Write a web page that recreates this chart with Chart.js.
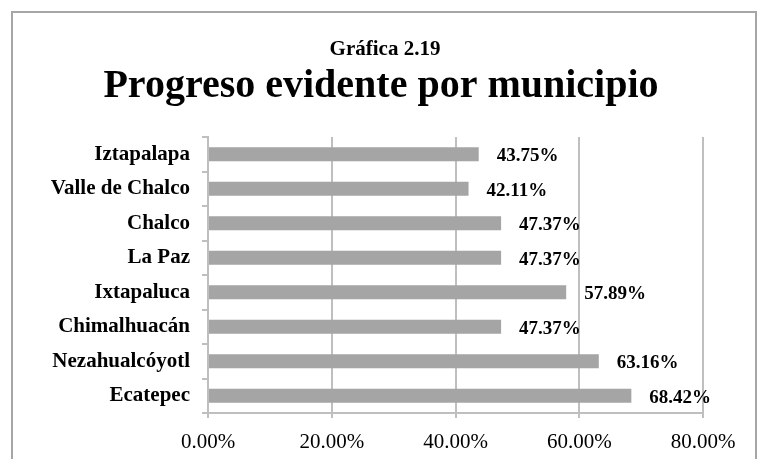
<!DOCTYPE html>
<html>
<head>
<meta charset="utf-8">
<script src="https://cdn.jsdelivr.net/npm/chart.js@4/dist/chart.umd.min.js"></script>
<style>
    html, body { margin: 0; padding: 0; background: #fff; }
    #wrap { position: relative; width: 762px; height: 459px; overflow: hidden; }
    #frame { position: absolute; left: 11px; top: 11px; width: 746px; height: 460px; border: 2px solid #a6a6a6; box-sizing: border-box; }
    canvas { position: absolute; left: 0; top: 0; }
</style>
</head>
<body>
<div id="wrap">
    <div id="frame"></div>
    <canvas id="chart" width="762" height="459"></canvas>
</div>
<script>
// Gráfica 2.19 — progreso evidente por municipio

const municipios = ['Iztapalapa', 'Valle de Chalco', 'Chalco', 'La Paz', 'Ixtapaluca', 'Chimalhuacán', 'Nezahualcóyotl', 'Ecatepec'];
const porcentajes = [43.75, 42.11, 47.37, 47.37, 57.89, 47.37, 63.16, 68.42];
const ticksX = [0, 20, 40, 60, 80];
const titulo = 'Gráfica 2.19';
const subtitulo = 'Progreso evidente por municipio';

const SERIF = '"Liberation Serif", "Times New Roman", serif';
const GRID = '#bfbfbf';

// Títulos centrados en el lienzo (no sobre el área del gráfico)
const headerText = {
    id: 'headerText',
    afterDraw(chart) {
        const { ctx, width } = chart;
        ctx.save();
        ctx.fillStyle = '#000';
        ctx.textAlign = 'center';
        ctx.textBaseline = 'middle';
        ctx.font = 'bold 21px ' + SERIF;
        ctx.fillText(titulo, width / 2 + 4, 50);
        ctx.font = 'bold 40px ' + SERIF;
        ctx.fillText(subtitulo, width / 2, 87);
        ctx.restore();
    }
};

// Etiquetas de valor a la derecha de cada barra
const valueLabels = {
    id: 'valueLabels',
    afterDatasetsDraw(chart) {
        const { ctx } = chart;
        const meta = chart.getDatasetMeta(0);
        ctx.save();
        ctx.font = 'bold 19px ' + SERIF;
        ctx.fillStyle = '#000';
        ctx.textAlign = 'left';
        ctx.textBaseline = 'middle';
        meta.data.forEach((bar, i) => {
            ctx.fillText(porcentajes[i].toFixed(2) + '%', bar.x + 18, bar.y + 2);
        });
        ctx.restore();
    }
};

new Chart(document.getElementById('chart'), {
    type: 'bar',
    data: {
        labels: municipios,
        datasets: [{
            data: porcentajes,
            backgroundColor: '#a5a5a5',
            categoryPercentage: 1,
            barPercentage: 0.4,
        }],
    },
    options: {
        indexAxis: 'y',
        responsive: false,
        animation: false,
        layout: { padding: { left: 10, right: 59, top: 137, bottom: 0 } },
        plugins: {
            legend: { display: false },
            tooltip: { enabled: false },
        },
        scales: {
            x: {
                min: 0,
                max: 80,
                afterBuildTicks: (scale) => { scale.ticks = ticksX.map(v => ({ value: v })); },
                afterFit: (scale) => { scale.height = 46; },
                grid: { color: GRID, lineWidth: 2, tickLength: 5 },
                border: { color: GRID, width: 2 },
                ticks: {
                    color: '#000',
                    padding: 12,
                    font: { family: SERIF, size: 21 },
                    callback: (v) => v.toFixed(2) + '%',
                },
            },
            y: {
                afterFit: (scale) => { scale.width = 198; },
                grid: { drawOnChartArea: false, color: GRID, lineWidth: 2, tickLength: 6 },
                border: { color: GRID, width: 2 },
                ticks: {
                    color: '#000',
                    padding: 12,
                    font: { family: SERIF, size: 21, weight: 'bold' },
                },
            },
        },
    },
    plugins: [valueLabels, headerText],
});
</script>
</body>
</html>
